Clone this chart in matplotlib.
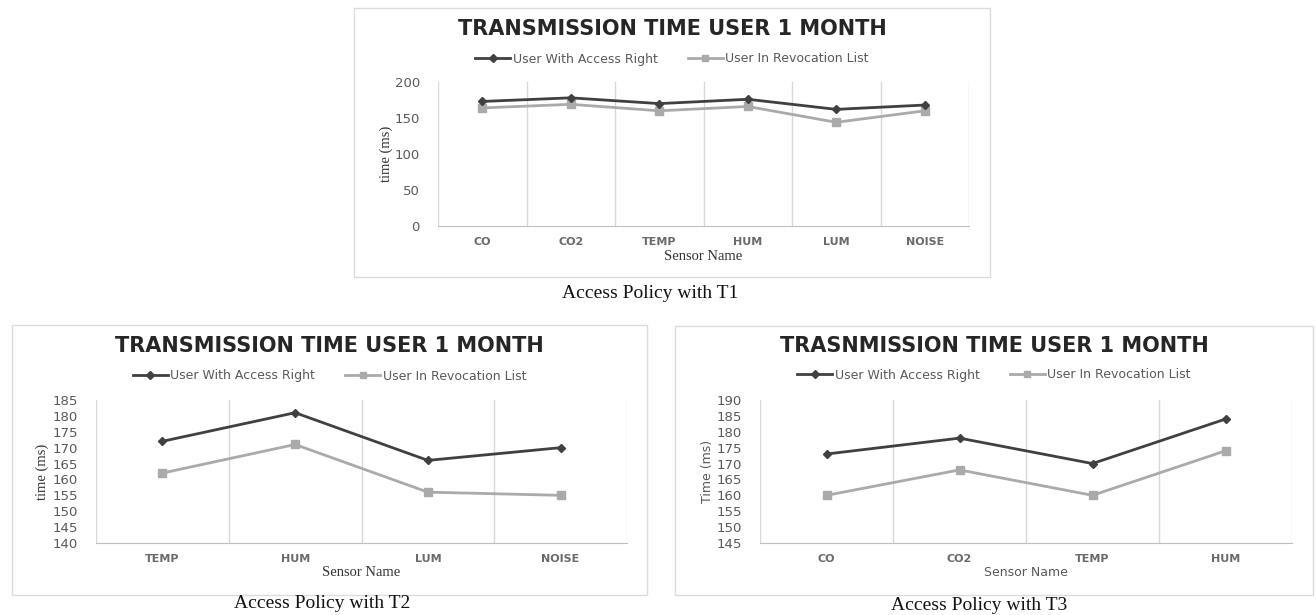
import matplotlib
matplotlib.use("Agg")
import matplotlib.pyplot as plt
from matplotlib.patches import Rectangle
from matplotlib.lines import Line2D

W, H = 1316, 615

# ---------------- data ----------------
categories_t1 = ["CO", "CO2", "TEMP", "HUM", "LUM", "NOISE"]
access_t1 = [173, 178, 170, 176, 162, 168]
revoked_t1 = [164, 169, 160, 166, 144, 160]
yticks_t1 = [0, 50, 100, 150, 200]

categories_t2 = ["TEMP", "HUM", "LUM", "NOISE"]
access_t2 = [172, 181, 166, 170]
revoked_t2 = [162, 171, 156, 155]
yticks_t2 = [140, 145, 150, 155, 160, 165, 170, 175, 180, 185]

categories_t3 = ["CO", "CO2", "TEMP", "HUM"]
access_t3 = [173, 178, 170, 184]
revoked_t3 = [160, 168, 160, 174]
yticks_t3 = [145, 150, 155, 160, 165, 170, 175, 180, 185, 190]

titles = ["TRANSMISSION TIME USER 1 MONTH", "TRANSMISSION TIME USER 1 MONTH",
          "TRASNMISSION TIME USER 1 MONTH"]
captions = ["Access Policy with T1", "Access Policy with T2", "Access Policy with T3"]
series_names = ["User With Access Right", "User In Revocation List"]

DARK = "#404040"
LIGHT = "#aaaaaa"
TICK = "#595959"
GRID = "#d9d9d9"

fig = plt.figure(figsize=(W / 100, H / 100), dpi=100)
fig.patch.set_facecolor("white")


def fx(x):
    return x / W


def fy(y):
    return 1 - y / H


def rect(x0, y0, x1, y1):
    return [fx(x0), fy(y1), fx(x1 - x0), (y1 - y0) / H]


def frame(x0, y0, x1, y1):
    fig.patches.append(Rectangle((fx(x0), fy(y1)), fx(x1 - x0), (y1 - y0) / H,
                                 transform=fig.transFigure, fill=False,
                                 edgecolor="#dcdcdc", linewidth=1.0))


def chart(frame_box, plot_box, cats, a, r, yticks, title, caption,
          title_y, legend_y, ylabel, ylabel_x, xlabel_y, caption_xy, sans_labels):
    fx0, fy0, fx1, fy1 = frame_box
    frame(fx0, fy0, fx1, fy1)
    px0, py0, px1, py1 = plot_box
    ax = fig.add_axes(rect(px0, py0, px1, py1))
    x = list(range(len(cats)))
    ax.plot(x, a, color=DARK, lw=2.0, marker="D", ms=4, mfc=DARK, mec=DARK,
            label=series_names[0], zorder=3)
    ax.plot(x, r, color=LIGHT, lw=2.0, marker="s", ms=5.5, mfc=LIGHT, mec=LIGHT,
            label=series_names[1], zorder=2)
    ax.set_xlim(-0.5, len(cats) - 0.5)
    ax.set_ylim(yticks[0], yticks[-1])
    ax.set_yticks(yticks)
    ax.set_xticks(x)
    ax.set_xticklabels(cats)
    for i in range(len(cats) + 1):
        ax.axvline(i - 0.5, color=GRID, lw=1.0, zorder=0)
    for s in ["top", "right", "left"]:
        ax.spines[s].set_visible(False)
    ax.spines["bottom"].set_color("#bfbfbf")
    ax.tick_params(axis="both", length=0, colors=TICK)
    ax.tick_params(axis="y", labelsize=9.5, pad=13)
    ax.tick_params(axis="x", labelsize=8, pad=8)
    for lab in ax.get_xticklabels():
        lab.set_color("#6a6a6a")
        lab.set_fontweight("semibold")
    ax.set_facecolor("none")

    cx = (fx0 + fx1) / 2
    fig.text(fx(cx), fy(title_y), title, ha="center", va="center",
             fontsize=15, fontweight="bold", color="#262626", family="DejaVu Sans")
    handles = [Line2D([], [], color=DARK, lw=2.0, marker="D", ms=4),
               Line2D([], [], color=LIGHT, lw=2.0, marker="s", ms=5)]
    fig.legend(handles, series_names, loc="center", ncol=2,
               bbox_to_anchor=(fx(cx), fy(legend_y)), frameon=False,
               fontsize=9, labelcolor=TICK, handlelength=2.8,
               handletextpad=0.2, columnspacing=2.4)
    lab_family = "DejaVu Sans" if sans_labels else "Liberation Serif"
    lab_color = "#595959" if sans_labels else "#333333"
    lab_size = 9 if sans_labels else 10.5
    fig.text(fx(ylabel_x), fy((py0 + py1) / 2), ylabel, rotation=90,
             ha="center", va="center", fontsize=lab_size, family=lab_family,
             color=lab_color)
    fig.text(fx((px0 + px1) / 2), fy(xlabel_y), "Sensor Name", ha="center",
             va="center", fontsize=lab_size, family=lab_family, color=lab_color)
    fig.text(fx(caption_xy[0]), fy(caption_xy[1]), caption, ha="center",
             va="center", fontsize=14, family="Liberation Serif", color="#111111")
    return ax


chart((354, 8, 990, 277), (438, 82, 969, 226), categories_t1, access_t1,
      revoked_t1, yticks_t1, titles[0], captions[0], 29, 59, "time (ms)", 386,
      256, (650, 294), False)
chart((12, 325, 647, 595), (96, 400, 627, 543), categories_t2, access_t2,
      revoked_t2, yticks_t2, titles[1], captions[1], 346, 376, "time (ms)", 42,
      573, (322, 603), False)
chart((675, 326, 1313, 595), (760, 400, 1292, 543), categories_t3, access_t3,
      revoked_t3, yticks_t3, titles[2], captions[2], 346, 375, "Time (ms)", 707,
      573, (979, 605), True)

fig.savefig("out.png", dpi=100, facecolor="white")
